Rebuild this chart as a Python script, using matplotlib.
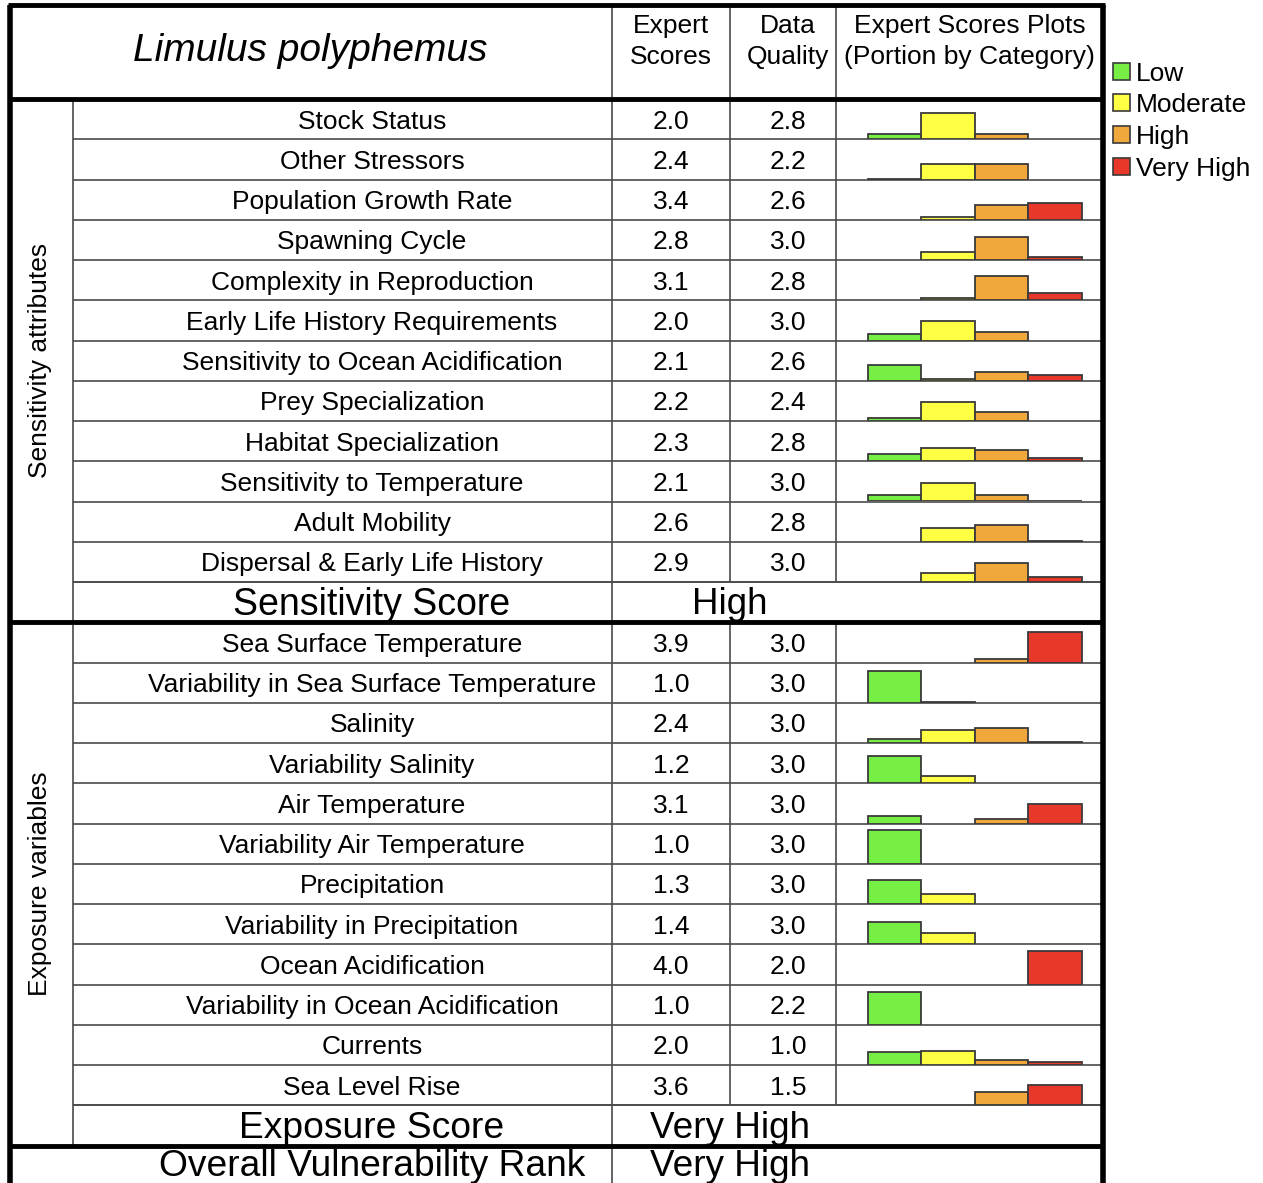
import matplotlib
matplotlib.use("Agg")
import matplotlib.pyplot as plt
from matplotlib import font_manager
from matplotlib.patches import Rectangle

# ---------------- data ----------------
species = "Limulus polyphemus"
categories = ["Low", "Moderate", "High", "Very High"]
cat_colors = ["#77EE44", "#FFFF44", "#F0A73C", "#E8382A"]

sens_attrs = ["Stock Status", "Other Stressors", "Population Growth Rate",
              "Spawning Cycle", "Complexity in Reproduction",
              "Early Life History Requirements",
              "Sensitivity to Ocean Acidification", "Prey Specialization",
              "Habitat Specialization", "Sensitivity to Temperature",
              "Adult Mobility", "Dispersal & Early Life History"]
sens_scores = [2.0, 2.4, 3.4, 2.8, 3.1, 2.0, 2.1, 2.2, 2.3, 2.1, 2.6, 2.9]
sens_quality = [2.8, 2.2, 2.6, 3.0, 2.8, 3.0, 2.6, 2.4, 2.8, 3.0, 2.8, 3.0]
sens_low = [0.14, 0.02, 0.00, 0.00, 0.00, 0.20, 0.46, 0.10, 0.20, 0.20, 0.00, 0.00]
sens_mod = [0.77, 0.47, 0.08, 0.24, 0.06, 0.57, 0.05, 0.57, 0.39, 0.54, 0.41, 0.26]
sens_high = [0.14, 0.47, 0.43, 0.68, 0.70, 0.26, 0.25, 0.26, 0.33, 0.20, 0.50, 0.57]
sens_vhigh = [0.00, 0.00, 0.48, 0.10, 0.22, 0.00, 0.17, 0.00, 0.10, 0.02, 0.02, 0.16]

exp_vars = ["Sea Surface Temperature", "Variability in Sea Surface Temperature",
            "Salinity", "Variability Salinity", "Air Temperature",
            "Variability Air Temperature", "Precipitation",
            "Variability in Precipitation", "Ocean Acidification",
            "Variability in Ocean Acidification", "Currents", "Sea Level Rise"]
exp_scores = [3.9, 1.0, 2.4, 1.2, 3.1, 1.0, 1.3, 1.4, 4.0, 1.0, 2.0, 3.6]
exp_quality = [3.0, 3.0, 3.0, 3.0, 3.0, 3.0, 3.0, 3.0, 2.0, 2.2, 1.0, 1.5]
exp_low = [0.00, 0.92, 0.12, 0.80, 0.22, 1.00, 0.70, 0.64, 0.00, 0.96, 0.37, 0.00]
exp_mod = [0.00, 0.02, 0.38, 0.20, 0.00, 0.00, 0.29, 0.34, 0.00, 0.00, 0.40, 0.00]
exp_high = [0.10, 0.00, 0.44, 0.00, 0.12, 0.00, 0.00, 0.00, 0.00, 0.00, 0.16, 0.40]
exp_vhigh = [0.90, 0.00, 0.02, 0.00, 0.57, 0.00, 0.00, 0.00, 1.00, 0.00, 0.10, 0.60]

sens_label = "Sensitivity attributes"
exp_label = "Exposure variables"
sens_total = "High"
exp_total = "Very High"
overall_total = "Very High"

# ---------------- fonts ----------------
names = {f.name for f in font_manager.fontManager.ttflist}
BASE = ["Liberation Sans", "DejaVu Sans"]
NARROW = ["Liberation Sans Narrow", "DejaVu Sans"] if "Liberation Sans Narrow" in names else BASE
plt.rcParams["font.family"] = BASE

W, H = 1263, 1183
fig = plt.figure(figsize=(W / 100, H / 100), dpi=100)
ax = fig.add_axes([0, 0, 1, 1])
ax.set_xlim(0, W)
ax.set_ylim(H, 0)
ax.axis("off")

# geometry (pixels)
XL, X1, X2, X3, X4, XR = 10, 73, 612, 730, 836, 1103
YT, YH = 5, 99
RH = (582 - 99) / 12.0
S0 = YH
S_SCORE = S0 + 12 * RH          # 582
E0 = S_SCORE + RH               # 622
E_SCORE = E0 + 12 * RH          # 1105
OV = E_SCORE + RH               # 1145

XC_NAME = 372      # centre of the attribute-name text
XC_SCORE = 671
XC_DQ = 788
XC_TOTAL = 730

FS = 19
GRAY = "#4a4a4a"


def hline(y, x0, x1, lw=1.2, c=GRAY):
    ax.plot([x0, x1], [y, y], color=c, lw=lw, solid_capstyle="butt", zorder=3)


def vline(x, y0, y1, lw=1.2, c=GRAY):
    ax.plot([x, x], [y0, y1], color=c, lw=lw, solid_capstyle="butt", zorder=3)


def label(x, yc, s, size=FS, family=BASE, style="normal", cap=0.716):
    return ax.text(x, yc + cap * size * 100 / 72 / 2, s, ha="center", va="baseline",
                   fontsize=size, family=family, style=style, zorder=4)


def fit_label(x, yc, s, width, family):
    t = label(x, yc, s, size=30, family=family)
    fig.canvas.draw()
    bb = t.get_window_extent()
    size = 30 * width / bb.width
    t.remove()
    return label(x, yc, s, size=size, family=family)


# header
label(310, 47, species, size=28, style="italic")
label(XC_SCORE, 24, "Expert", size=FS)
label(XC_SCORE, 55, "Scores", size=FS)
label(XC_DQ, 24, "Data", size=FS)
label(XC_DQ, 55, "Quality", size=FS)
label((X4 + XR) / 2, 24, "Expert Scores Plots", size=FS)
label((X4 + XR) / 2, 55, "(Portion by Category)", size=FS)

# vertical section labels
ax.text(40, (S0 + E0) / 2, sens_label, rotation=90, ha="center", va="center", fontsize=FS)
ax.text(40, (E0 + OV) / 2, exp_label, rotation=90, ha="center", va="center", fontsize=FS)

sections = [
    (S0, sens_attrs, sens_scores, sens_quality, [sens_low, sens_mod, sens_high, sens_vhigh]),
    (E0, exp_vars, exp_scores, exp_quality, [exp_low, exp_mod, exp_high, exp_vhigh]),
]

for top, names_, scores, quality, portions in sections:
    for i, name in enumerate(names_):
        y0 = top + i * RH
        yc = y0 + RH / 2
        label(XC_NAME, yc, name)
        label(XC_SCORE, yc, f"{scores[i]:.1f}")
        label(XC_DQ, yc, f"{quality[i]:.1f}")
        hline(y0 + RH, X1, XR)
        vline(X3, y0, y0 + RH)
        vline(X4, y0, y0 + RH)
        # mini bar chart in the plots cell
        bax = fig.add_axes([X4 / W, 1 - (y0 + RH) / H, (XR - 2 - X4) / W, RH / H])
        vals = [p[i] for p in portions]
        xs = list(range(len(categories)))
        bars = [(x, v, c) for x, v, c in zip(xs, vals, cat_colors) if v > 0]
        bax.bar([b[0] for b in bars], [b[1] for b in bars], width=1.0,
                color=[b[2] for b in bars], edgecolor="#3a3a3a", linewidth=1.3)
        bax.set_xlim(-1.1, 3.86)
        bax.set_ylim(0, RH / 34.0)
        bax.axis("off")
        bax.patch.set_alpha(0)

# score rows
fit_label(XC_NAME, S_SCORE + RH / 2 - 1, "Sensitivity Score", 277, NARROW)
fit_label(XC_TOTAL, S_SCORE + RH / 2 - 1, sens_total, 75, NARROW)
fit_label(XC_NAME, E_SCORE + RH / 2 - 1, "Exposure Score", 265, NARROW)
fit_label(XC_TOTAL, E_SCORE + RH / 2 - 1, exp_total, 160, NARROW)
fit_label(XC_NAME, OV + 17, "Overall Vulnerability Rank", 425, NARROW)
fit_label(XC_TOTAL, OV + 17, overall_total, 160, NARROW)

# table lines
vline(X1, YH, OV)
vline(X2, YT, H)
vline(X3, YT, YH)
vline(X4, YT, YH)
hline(S_SCORE, X1, XR)
hline(E_SCORE, X1, XR)
# thick lines
for y in (YH, E0, OV):
    hline(y, XL, XR, lw=3.5, c="black")
hline(YT, XL - 2, XR + 2, lw=3.5, c="black")
vline(XL, YT, H, lw=4, c="black")
vline(XR, YT, H, lw=4, c="black")

# legend
for k, (cat, col) in enumerate(zip(categories, cat_colors)):
    yc = 71 + k * 31.7
    ax.add_patch(Rectangle((1113, yc - 8.5), 17, 17, facecolor=col,
                           edgecolor="#3a3a3a", lw=1.2, zorder=4))
    ax.text(1136, yc + 9.5, cat, ha="left", va="baseline", fontsize=FS)

fig.savefig("out.png", dpi=100)
